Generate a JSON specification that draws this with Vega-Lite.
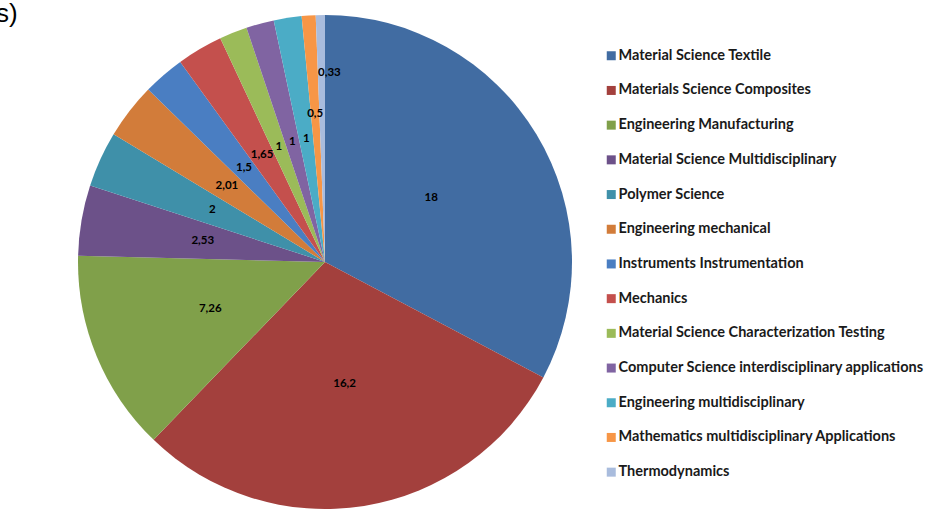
{
  "$schema": "https://vega.github.io/schema/vega-lite/v6.json",
  "autosize": "none",
  "width": 650,
  "height": 504,
  "padding": {"left": 0, "top": 10, "right": 285, "bottom": 0},
  "background": "white",
  "title": {"text": "s)", "anchor": "start", "frame": "group", "fontSize": 26, "font": "Liberation Sans", "fontWeight": "normal", "color": "#000000", "dx": -4, "dy": 17, "offset": 0},
  "data": {"values": [
    {"rank": 1, "category": "Material Science Textile", "value": 18, "label": "18"},
    {"rank": 2, "category": "Materials Science Composites", "value": 16.2, "label": "16,2"},
    {"rank": 3, "category": "Engineering Manufacturing", "value": 7.26, "label": "7,26"},
    {"rank": 4, "category": "Material Science Multidisciplinary", "value": 2.53, "label": "2,53"},
    {"rank": 5, "category": "Polymer Science", "value": 2, "label": "2"},
    {"rank": 6, "category": "Engineering mechanical", "value": 2.01, "label": "2,01"},
    {"rank": 7, "category": "Instruments Instrumentation", "value": 1.5, "label": "1,5"},
    {"rank": 8, "category": "Mechanics", "value": 1.65, "label": "1,65"},
    {"rank": 9, "category": "Material Science Characterization Testing", "value": 1, "label": "1"},
    {"rank": 10, "category": "Computer Science interdisciplinary applications", "value": 1, "label": "1"},
    {"rank": 11, "category": "Engineering multidisciplinary", "value": 1, "label": "1"},
    {"rank": 12, "category": "Mathematics multidisciplinary Applications", "value": 0.5, "label": "0,5"},
    {"rank": 13, "category": "Thermodynamics", "value": 0.33, "label": "0,33"}
  ]},
  "encoding": {
    "theta": {"field": "value", "type": "quantitative", "stack": true},
    "order": {"field": "rank", "type": "quantitative"},
    "color": {
      "field": "category", "type": "nominal", "sort": null,
      "scale": {
        "domain": ["Material Science Textile", "Materials Science Composites", "Engineering Manufacturing", "Material Science Multidisciplinary", "Polymer Science", "Engineering mechanical", "Instruments Instrumentation", "Mechanics", "Material Science Characterization Testing", "Computer Science interdisciplinary applications", "Engineering multidisciplinary", "Mathematics multidisciplinary Applications", "Thermodynamics"],
        "range": ["#416CA2", "#A3403D", "#80A04A", "#6C5189", "#3F90A9", "#D27C3A", "#4A7EC2", "#C4504D", "#9BBB59", "#8064A2", "#4BACC6", "#F79646", "#A9BCDD"]
      },
      "legend": {
        "title": null, "orient": "none", "legendX": 604, "legendY": 38.5,
        "symbolType": "square", "symbolSize": 81, "symbolStrokeWidth": 0,
        "labelFont": "Lato", "labelFontSize": 14.5, "labelFontWeight": "bold", "labelColor": "#1a1a1a",
        "labelOffset": 0, "rowPadding": 19.7, "padding": 0, "labelLimit": 400
      }
    }
  },
  "layer": [
    {"mark": {"type": "arc", "outerRadius": 247}},
    {
      "mark": {"type": "text", "radius": 124, "font": "Lato", "fontSize": 11.5, "fontWeight": "bold", "color": "#000000"},
      "encoding": {"text": {"field": "label"}, "color": {"value": "#000000"},
        "opacity": {"condition": {"test": "datum.value >= 0.9", "value": 1}, "value": 0}}
    },
    {
      "mark": {"type": "text", "radius": 148, "font": "Lato", "fontSize": 11.5, "fontWeight": "bold", "color": "#000000"},
      "encoding": {"text": {"field": "label"}, "color": {"value": "#000000"},
        "opacity": {"condition": {"test": "datum.value > 0.4 && datum.value < 0.9", "value": 1}, "value": 0}}
    },
    {
      "mark": {"type": "text", "radius": 189, "dx": 8, "font": "Lato", "fontSize": 11.5, "fontWeight": "bold", "color": "#000000"},
      "encoding": {"text": {"field": "label"}, "color": {"value": "#000000"},
        "opacity": {"condition": {"test": "datum.value < 0.4", "value": 1}, "value": 0}}
    }
  ],
  "config": {"view": {"stroke": null}}
}
